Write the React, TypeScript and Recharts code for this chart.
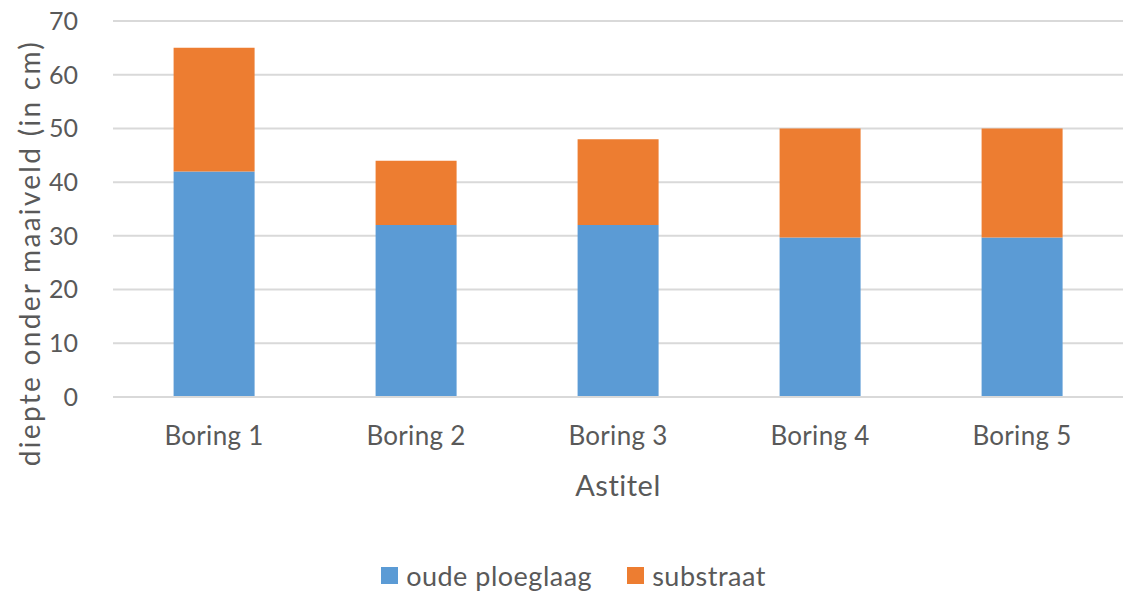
import React from 'react';
import { BarChart, Bar, XAxis, YAxis, CartesianGrid, Legend } from 'recharts';

const categories = ['Boring 1', 'Boring 2', 'Boring 3', 'Boring 4', 'Boring 5'];
const oudePloeglaag = [42, 32, 32, 29.7, 29.7];
const substraat = [23, 12, 16, 20.3, 20.3];
const yTicks = [0, 10, 20, 30, 40, 50, 60, 70];

const data = categories.map((name, i) => ({
  name,
  oude: oudePloeglaag[i],
  substraat: substraat[i],
}));

const FONT = 'Lato, "Noto Sans", sans-serif';
const TEXT = '#595959';
const BLUE = '#5B9BD5';
const ORANGE = '#ED7D31';

const renderLegend = (props: any) => {
  const { payload } = props;
  return (
    <div style={{ display: 'flex', justifyContent: 'center', alignItems: 'center', fontFamily: FONT, fontSize: 27, letterSpacing: 0.5, color: TEXT, height: 30, paddingLeft: 24 }}>
      {payload.map((entry: any, i: number) => (
        <div key={i} style={{ display: 'flex', alignItems: 'center', marginRight: i === 0 ? 35 : 0 }}>
          <span style={{ display: 'inline-block', width: 17, height: 17, background: entry.color, marginRight: 8 }} />
          <span>{entry.value}</span>
        </div>
      ))}
    </div>
  );
};

const YLabel = (props: any) => {
  const { viewBox } = props;
  const cx = 29;
  const cy = viewBox.y + viewBox.height / 2 + 44;
  return (
    <text
      x={cx}
      y={cy}
      transform={`rotate(-90, ${cx}, ${cy})`}
      textAnchor="middle"
      dominantBaseline="central"
      fill={TEXT}
      fontSize={28}
      letterSpacing={2.3}
      fontFamily={FONT}
    >
      diepte onder maaiveld (in cm)
    </text>
  );
};

export default function App() {
  return (
    <div style={{ position: 'absolute', left: 0, top: 0, width: 1128, height: 596, background: '#fff' }}>
      <BarChart
        width={1128}
        height={596}
        data={data}
        margin={{ top: 21, right: 5, left: 0, bottom: 6 }}
        barCategoryGap="30%"
      >
        <CartesianGrid vertical={false} stroke="#D9D9D9" strokeWidth={2} />
        <XAxis
          dataKey="name"
          height={163}
          tickLine={false}
          axisLine={{ stroke: '#D9D9D9', strokeWidth: 2 }}
          tick={{ fill: TEXT, fontSize: 26, fontFamily: FONT, letterSpacing: 0.3 }}
          tickMargin={24}
          label={{ value: 'Astitel', position: 'insideTop', offset: 78, fill: TEXT, fontSize: 29, fontFamily: FONT, letterSpacing: 0.5 }}
        />
        <YAxis
          width={113}
          domain={[0, 70]}
          ticks={yTicks}
          tickLine={false}
          axisLine={false}
          tick={{ fill: TEXT, fontSize: 25, fontFamily: FONT }}
          tickMargin={29}
          label={<YLabel />}
        />
        <Legend verticalAlign="bottom" height={30} content={renderLegend} />
        <Bar dataKey="oude" name="oude ploeglaag" stackId="a" fill={BLUE} isAnimationActive={false} />
        <Bar dataKey="substraat" name="substraat" stackId="a" fill={ORANGE} isAnimationActive={false} />
      </BarChart>
    </div>
  );
}
